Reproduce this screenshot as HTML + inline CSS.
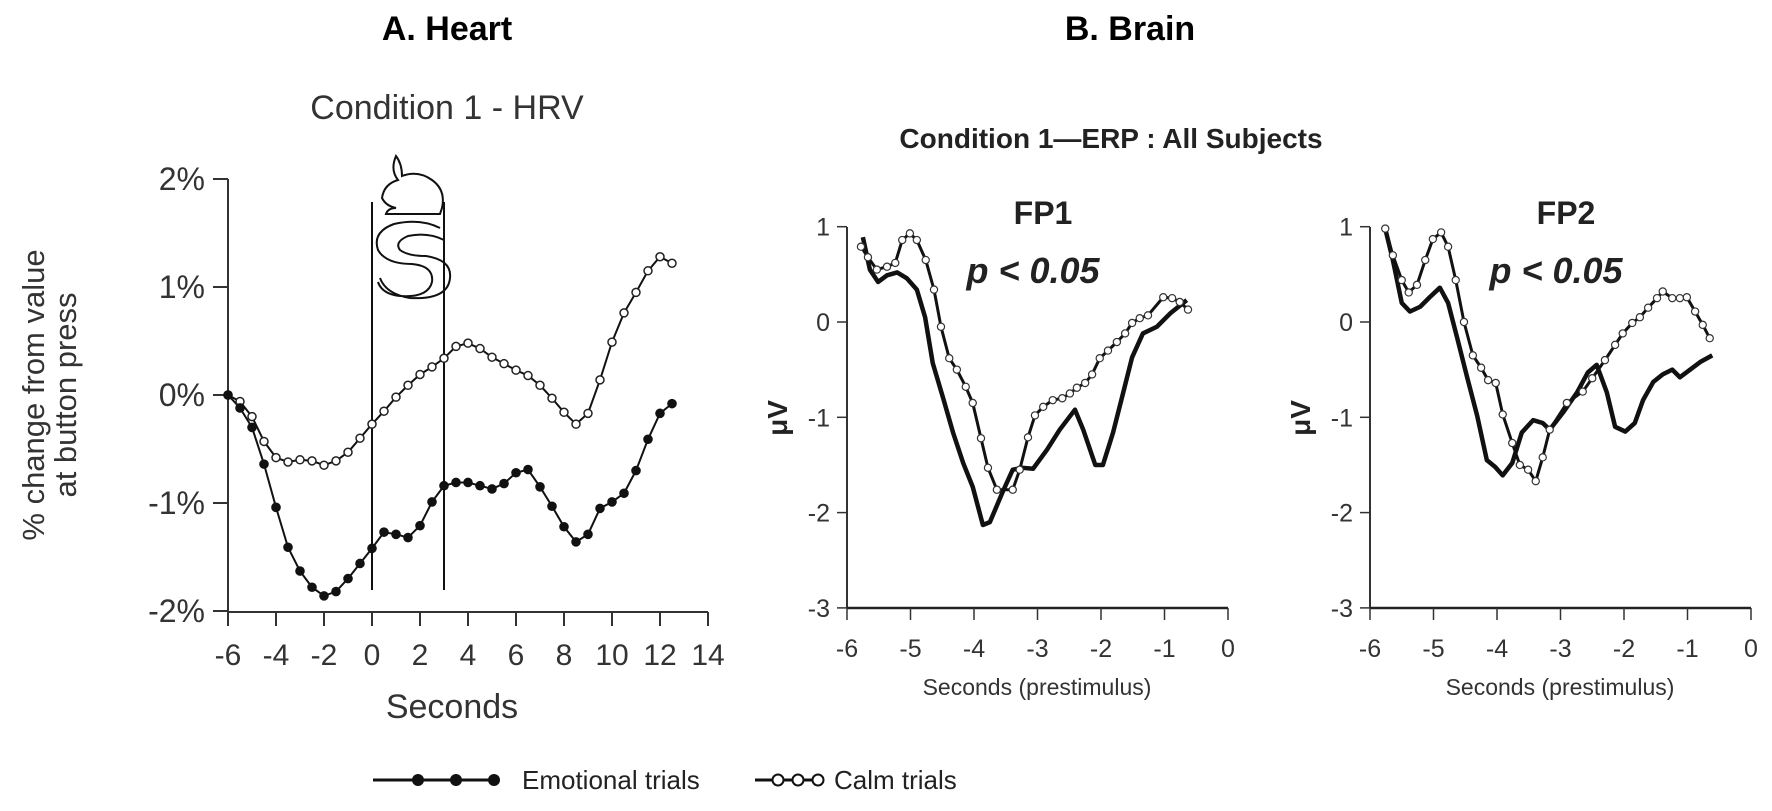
<!DOCTYPE html>
<html><head><meta charset="utf-8"><style>
body{margin:0;background:#fff}
svg{display:block;font-family:"Liberation Sans",Arial,sans-serif}
</style></head><body>
<svg id="fig" width="1772" height="811" viewBox="0 0 1772 811">
<text x="447" y="40" text-anchor="middle" font-size="34" font-weight="bold">A. Heart</text>
<text x="1130" y="40" text-anchor="middle" font-size="34" font-weight="bold">B. Brain</text>
<text x="447" y="119" text-anchor="middle" font-size="34" fill="#333">Condition 1 - HRV</text>
<text x="1111" y="148" text-anchor="middle" font-size="28" font-weight="bold" fill="#222">Condition 1—ERP : All Subjects</text>
<g id="heart"></g>
<g id="fp1"></g>
<g id="fp2"></g>
<g fill="none" stroke="#111" stroke-width="2">
<path d="M382 198 q2-14 16-18 q-8-10 -2-24 q6 8 6 20 q16-6 30 4 q14 10 10 28 l-2 6 h-54 q2-6 10-6 q-10-2-14-10z"/>
<path d="M440 228 q-20-10 -46-4 q-22 8 -16 26 q8 14 34 14 q22 2 20 18 q-4 16 -32 14 q-18-2 -22-14 M444 240 q-16-8 -36-4 q-14 6 -8 14 q8 6 26 6 q26 4 24 22 q-2 22 -40 20 q-24-4 -30-20"/>
</g>
<g>
<line x1="373" y1="780" x2="497" y2="780" stroke="#111" stroke-width="3"/>
<circle cx="418" cy="780" r="6" fill="#111"/>
<circle cx="456" cy="780" r="6" fill="#111"/>
<circle cx="494" cy="780" r="6" fill="#111"/>
<text x="522" y="789" font-size="26" fill="#222">Emotional trials</text>
<line x1="755" y1="780" x2="822" y2="780" stroke="#111" stroke-width="3"/>
<circle cx="778" cy="780" r="5.5" fill="#fff" stroke="#111" stroke-width="2"/>
<circle cx="798" cy="780" r="5.5" fill="#fff" stroke="#111" stroke-width="2"/>
<circle cx="818" cy="780" r="5.5" fill="#fff" stroke="#111" stroke-width="2"/>
<text x="834" y="789" font-size="26" fill="#222">Calm trials</text>
</g>
</svg>
<script>
// ---- Heart (HRV) data ----
const hrvTimes = [-6,-5.5,-5,-4.5,-4,-3.5,-3,-2.5,-2,-1.5,-1,-0.5,0,0.5,1,1.5,2,2.5,3,3.5,4,4.5,5,5.5,6,6.5,7,7.5,8,8.5,9,9.5,10,10.5,11,11.5,12,12.5];
const hrvEmotional = [0,-0.12,-0.30,-0.64,-1.04,-1.41,-1.63,-1.78,-1.86,-1.82,-1.70,-1.56,-1.42,-1.27,-1.29,-1.32,-1.21,-0.99,-0.84,-0.81,-0.81,-0.84,-0.87,-0.82,-0.72,-0.69,-0.85,-1.03,-1.22,-1.36,-1.29,-1.05,-0.99,-0.91,-0.70,-0.41,-0.17,-0.08];
const hrvCalm = [0,-0.06,-0.20,-0.43,-0.58,-0.62,-0.60,-0.61,-0.65,-0.61,-0.53,-0.40,-0.27,-0.15,-0.02,0.09,0.19,0.26,0.34,0.45,0.48,0.43,0.35,0.29,0.23,0.18,0.09,-0.03,-0.16,-0.27,-0.17,0.14,0.49,0.76,0.95,1.15,1.28,1.22];
const hrvXTicks = [-6,-4,-2,0,2,4,6,8,10,12,14];
const hrvYTicks = [2,1,0,-1,-2];
const hrvYTickLabels = ["2%","1%","0%","-1%","-2%"];
const stimulusLines = [0,3];
// ---- ERP data ----
const fp1EmoT = [-5.75,-5.64,-5.51,-5.37,-5.21,-5.06,-4.90,-4.77,-4.65,-4.49,-4.33,-4.17,-4.02,-3.86,-3.75,-3.54,-3.39,-3.23,-3.07,-2.85,-2.65,-2.41,-2.28,-2.09,-1.97,-1.81,-1.65,-1.51,-1.34,-1.12,-0.91,-0.65];
const fp1EmoV = [0.89,0.55,0.42,0.49,0.52,0.46,0.34,0.05,-0.43,-0.79,-1.16,-1.48,-1.73,-2.13,-2.10,-1.77,-1.55,-1.53,-1.54,-1.34,-1.13,-0.92,-1.13,-1.50,-1.50,-1.16,-0.74,-0.37,-0.12,-0.05,0.09,0.23];
const fp1CalmT = [-5.78,-5.67,-5.53,-5.37,-5.24,-5.13,-5.01,-4.90,-4.76,-4.63,-4.52,-4.39,-4.27,-4.13,-4.02,-3.89,-3.78,-3.64,-3.39,-3.28,-3.15,-3.04,-2.91,-2.76,-2.61,-2.49,-2.38,-2.25,-2.14,-2.02,-1.89,-1.75,-1.62,-1.51,-1.39,-1.26,-1.02,-0.88,-0.76,-0.63];
const fp1CalmV = [0.79,0.68,0.55,0.58,0.62,0.86,0.93,0.86,0.65,0.34,-0.05,-0.38,-0.50,-0.68,-0.85,-1.22,-1.53,-1.76,-1.76,-1.55,-1.21,-0.98,-0.89,-0.82,-0.80,-0.75,-0.69,-0.64,-0.55,-0.38,-0.30,-0.21,-0.12,-0.01,0.04,0.07,0.26,0.25,0.21,0.13];
const fp2EmoT = [-5.76,-5.64,-5.50,-5.37,-5.21,-5.06,-4.90,-4.77,-4.63,-4.47,-4.31,-4.16,-4.03,-3.91,-3.76,-3.61,-3.43,-3.28,-3.17,-2.96,-2.74,-2.57,-2.43,-2.27,-2.14,-1.98,-1.83,-1.70,-1.54,-1.39,-1.24,-1.12,-0.96,-0.80,-0.61];
const fp2EmoV = [0.98,0.65,0.20,0.11,0.16,0.26,0.36,0.20,-0.16,-0.58,-0.99,-1.45,-1.52,-1.61,-1.48,-1.16,-1.03,-1.06,-1.13,-0.95,-0.74,-0.53,-0.45,-0.74,-1.10,-1.15,-1.06,-0.82,-0.63,-0.55,-0.50,-0.58,-0.50,-0.42,-0.35];
const fp2CalmT = [-5.76,-5.64,-5.50,-5.39,-5.26,-5.13,-5.01,-4.88,-4.77,-4.65,-4.52,-4.38,-4.25,-4.14,-4.02,-3.91,-3.76,-3.64,-3.51,-3.39,-3.28,-3.17,-2.90,-2.65,-2.50,-2.30,-2.14,-2.02,-1.87,-1.75,-1.62,-1.48,-1.39,-1.24,-1.12,-1.01,-0.88,-0.76,-0.65];
const fp2CalmV = [0.98,0.70,0.44,0.31,0.39,0.65,0.87,0.94,0.79,0.44,0.00,-0.35,-0.48,-0.61,-0.64,-0.97,-1.27,-1.50,-1.55,-1.67,-1.42,-1.13,-0.85,-0.73,-0.59,-0.40,-0.24,-0.12,-0.01,0.05,0.15,0.25,0.32,0.25,0.25,0.26,0.11,-0.03,-0.17];
const erpXTicks = [-6,-5,-4,-3,-2,-1,0];
const erpYTicks = [1,0,-1,-2,-3];

const NS = "http://www.w3.org/2000/svg";
function mk(parent, tag, attrs, text) {
  const e = document.createElementNS(NS, tag);
  for (const k in attrs) e.setAttribute(k, attrs[k]);
  if (text !== undefined) e.textContent = text;
  parent.appendChild(e);
  return e;
}

// ---- Heart chart ----
(function () {
  const g = document.getElementById('heart');
  const xs = t => 372 + 24 * t;
  const ys = v => 395 - 108 * v;
  let e;
  e = mk(g, 'line', {x1: 228, y1: 179, x2: 228, y2: 612, stroke: '#333', 'stroke-width': 2});
  
  
  e = mk(g, 'line', {x1: 228, y1: 612, x2: 708, y2: 612, stroke: '#333', 'stroke-width': 2});
  
  
  hrvYTicks.forEach((v, i) => {
    const t = mk(g, 'line', {x1: 213, y1: ys(v), x2: 228, y2: ys(v), stroke: '#333', 'stroke-width': 2});
    
    
    const l = mk(g, 'text', {x: 205, y: ys(v) + 11, 'text-anchor': 'end', 'font-size': 32, fill: '#333'}, hrvYTickLabels[i]);
    
    
  });
  hrvXTicks.forEach(v => {
    const t = mk(g, 'line', {x1: xs(v), y1: 612, x2: xs(v), y2: 626, stroke: '#333', 'stroke-width': 2});
    
    
    const l = mk(g, 'text', {x: xs(v), y: 665, 'text-anchor': 'middle', 'font-size': 30, fill: '#333'}, String(v));
    
    
  });
  e = mk(g, 'text', {x: 452, y: 718, 'text-anchor': 'middle', 'font-size': 34, fill: '#333'}, 'Seconds');
  
  
  e = mk(g, 'text', {x: 0, y: 0, 'text-anchor': 'middle', 'font-size': 31, fill: '#333', transform: 'translate(44,395) rotate(-90)'}, '% change from value');
  
  
  e = mk(g, 'text', {x: 0, y: 0, 'text-anchor': 'middle', 'font-size': 31, fill: '#333', transform: 'translate(76,395) rotate(-90)'}, 'at button press');
  
  
  stimulusLines.forEach(s => {
    const l = mk(g, 'line', {x1: xs(s), y1: 202, x2: xs(s), y2: 590, stroke: '#111', 'stroke-width': 2});
    
    
  });
  const pts = arr => arr.map((v, i) => xs(hrvTimes[i]) + ',' + ys(v)).join(' ');
  e = mk(g, 'polyline', {points: pts(hrvCalm), fill: 'none', stroke: '#111', 'stroke-width': 2});
  
  
  e = mk(g, 'polyline', {points: pts(hrvEmotional), fill: 'none', stroke: '#111', 'stroke-width': 2});
  
  
  hrvCalm.forEach((v, i) => {
    const c = mk(g, 'circle', {cx: xs(hrvTimes[i]), cy: ys(v), r: 4, fill: '#fff', stroke: '#222', 'stroke-width': 1.5});
    
    
  });
  hrvEmotional.forEach((v, i) => {
    const c = mk(g, 'circle', {cx: xs(hrvTimes[i]), cy: ys(v), r: 4.8, fill: '#111'});
    
    
  });
})();

// ---- ERP charts ----
function erp(id, x0, label, emoT, emoV, calmT, calmV) {
  const g = document.getElementById(id);
  const xs = t => x0 + 381 + 63.5 * t;
  const ys = v => 322 - 95.3 * v;
  let e;
  e = mk(g, 'line', {x1: x0, y1: 227, x2: x0, y2: 608, stroke: '#333', 'stroke-width': 2});
  
  
  e = mk(g, 'line', {x1: x0, y1: 608, x2: x0 + 381, y2: 608, stroke: '#222', 'stroke-width': 2.5});
  
  
  erpYTicks.forEach(v => {
    const t = mk(g, 'line', {x1: x0 - 10, y1: ys(v), x2: x0, y2: ys(v), stroke: '#333', 'stroke-width': 1.5});
    
    
    const l = mk(g, 'text', {x: x0 - 17, y: ys(v) + 9, 'text-anchor': 'end', 'font-size': 25, fill: '#333'}, String(v));
    
    
  });
  erpXTicks.forEach(v => {
    const t = mk(g, 'line', {x1: xs(v), y1: 608, x2: xs(v), y2: 620, stroke: '#333', 'stroke-width': 1.5});
    
    
    const l = mk(g, 'text', {x: xs(v), y: 657, 'text-anchor': 'middle', 'font-size': 25, fill: '#333'}, String(v));
    
    
  });
  e = mk(g, 'text', {x: x0 + 190, y: 695, 'text-anchor': 'middle', 'font-size': 23, fill: '#333'}, 'Seconds (prestimulus)');
  
  
  e = mk(g, 'text', {x: 0, y: 0, 'text-anchor': 'middle', 'font-size': 28, 'font-weight': 'bold', fill: '#222', transform: 'translate(' + (x0 - 60) + ',418) rotate(-90)'}, 'μV');
  
  
  e = mk(g, 'text', {x: x0 + 196, y: 224, 'text-anchor': 'middle', 'font-size': 32, 'font-weight': 'bold', fill: '#222'}, label);
  
  
  e = mk(g, 'text', {x: x0 + 186, y: 283, 'text-anchor': 'middle', 'font-size': 36, 'font-weight': 'bold', 'font-style': 'italic', fill: '#222'}, 'p < 0.05');
  
  
  const pts = (T, V) => V.map((v, i) => xs(T[i]) + ',' + ys(v)).join(' ');
  e = mk(g, 'polyline', {points: pts(emoT, emoV), fill: 'none', stroke: '#111', 'stroke-width': 4.5, 'stroke-linejoin': 'round'});
  
  
  e = mk(g, 'polyline', {points: pts(calmT, calmV), fill: 'none', stroke: '#111', 'stroke-width': 3, 'stroke-linejoin': 'round'});
  
  
  calmV.forEach((v, i) => {
    const c = mk(g, 'circle', {cx: xs(calmT[i]), cy: ys(v), r: 3.6, fill: '#fff', stroke: '#333', 'stroke-width': 1.2});
    
    
  });
}
erp('fp1', 847, 'FP1', fp1EmoT, fp1EmoV, fp1CalmT, fp1CalmV);
erp('fp2', 1370, 'FP2', fp2EmoT, fp2EmoV, fp2CalmT, fp2CalmV);
</script>
</body></html>
